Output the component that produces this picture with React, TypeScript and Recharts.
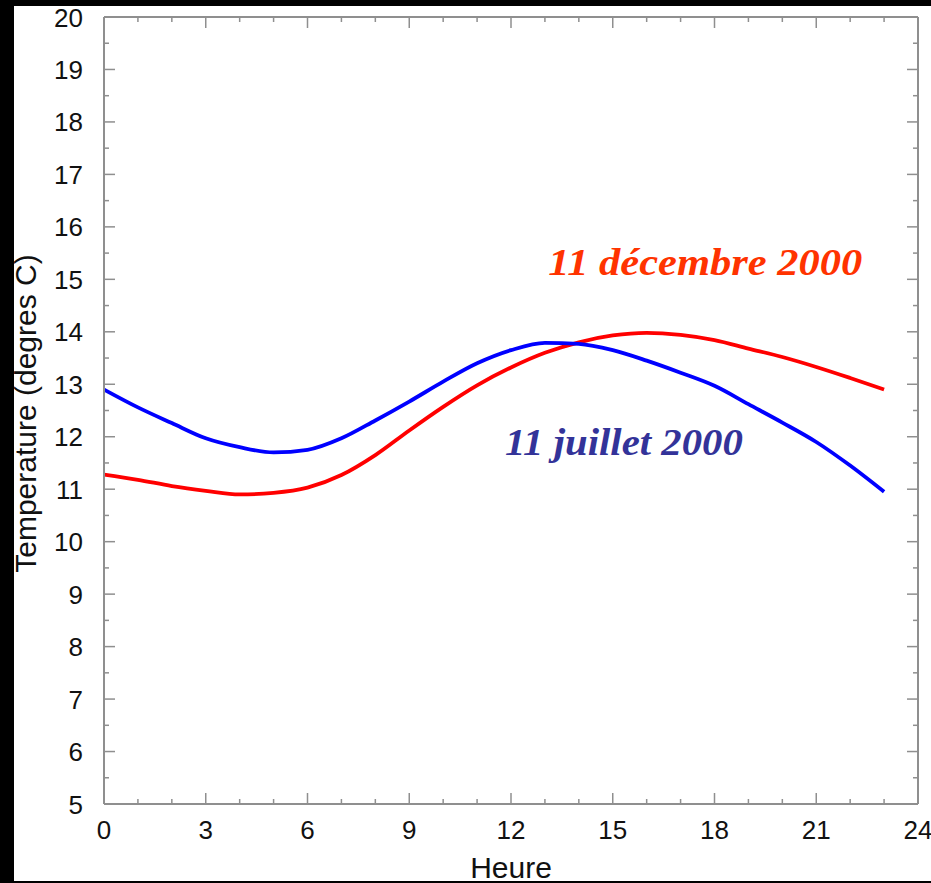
import React from "react";
import { LineChart, Line, XAxis, YAxis, ReferenceDot, Label } from "recharts";

// hourly temperatures
const hours = [0, 1, 2, 3, 4, 5, 6, 7, 8, 9, 10, 11, 12, 13, 14, 15, 16, 17, 18, 19, 20, 21, 22, 23];
const decembre = [11.28, 11.18, 11.06, 10.97, 10.9, 10.93, 11.03, 11.27, 11.65, 12.12, 12.57, 12.98, 13.32, 13.6, 13.8, 13.93, 13.98, 13.94, 13.84, 13.68, 13.52, 13.33, 13.12, 12.9];
const juillet = [12.9, 12.56, 12.26, 11.97, 11.8, 11.7, 11.75, 11.97, 12.31, 12.67, 13.05, 13.4, 13.65, 13.79, 13.77, 13.65, 13.45, 13.22, 12.97, 12.62, 12.27, 11.9, 11.45, 10.95];

const xTicks = [0, 1, 2, 3, 4, 5, 6, 7, 8, 9, 10, 11, 12, 13, 14, 15, 16, 17, 18, 19, 20, 21, 22, 23, 24];
const xLabels = [0, 3, 6, 9, 12, 15, 18, 21, 24];
const yTicks = [5, 5.5, 6, 6.5, 7, 7.5, 8, 8.5, 9, 9.5, 10, 10.5, 11, 11.5, 12, 12.5, 13, 13.5, 14, 14.5, 15, 15.5, 16, 16.5, 17, 17.5, 18, 18.5, 19, 19.5, 20];
const yLabels = [5, 6, 7, 8, 9, 10, 11, 12, 13, 14, 15, 16, 17, 18, 19, 20];

const data = hours.map((hour, i) => ({ hour, decembre: decembre[i], juillet: juillet[i] }));

const AXIS = "#8f8f8f";
const SANS = "'Liberation Sans', Arial, Helvetica, sans-serif";
const SERIF = "'Liberation Serif', 'Times New Roman', serif";

const BottomTick = ({ x, y, payload }: any) => {
  const major = xLabels.includes(payload.value);
  return (
    <g>
      <line x1={x} x2={x} y1={y} y2={y - (major ? 11 : 5)} stroke={AXIS} strokeWidth={1.5} />
      {major && (
        <text x={x} y={y + 35} textAnchor="middle" fontSize={26} fill="#111" fontFamily={SANS}>
          {payload.value}
        </text>
      )}
    </g>
  );
};

const TopTick = ({ x, y, payload }: any) => {
  const major = xLabels.includes(payload.value);
  return <line x1={x} x2={x} y1={y} y2={y + (major ? 11 : 5)} stroke={AXIS} strokeWidth={1.5} />;
};

const LeftTick = ({ x, y, payload }: any) => {
  const major = yLabels.includes(payload.value);
  return (
    <g>
      <line x1={x} x2={x + (major ? 11 : 5)} y1={y} y2={y} stroke={AXIS} strokeWidth={1.5} />
      {major && (
        <text x={x - 21} y={y} dy={9.5} textAnchor="end" fontSize={26} fill="#111" fontFamily={SANS}>
          {payload.value}
        </text>
      )}
    </g>
  );
};

const RightTick = ({ x, y, payload }: any) => {
  const major = yLabels.includes(payload.value);
  return <line x1={x} x2={x - (major ? 11 : 5)} y1={y} y2={y} stroke={AXIS} strokeWidth={1.5} />;
};

const note = (text: string, color: string, len: number) => (p: any) => (
  <text
    x={p.cx}
    y={p.cy}
    fill={color}
    fontSize={37}
    fontWeight="bold"
    fontStyle="italic"
    fontFamily={SERIF}
    textLength={len}
    lengthAdjust="spacingAndGlyphs"
  >
    {text}
  </text>
);

export default function App() {
  return (
    <div style={{ position: "absolute", top: 0, left: 0, width: 931, height: 883, background: "#fff", overflow: "hidden" }}>
      <LineChart width={931} height={883} data={data} margin={{ top: 16, right: 12, bottom: 0, left: 0 }}>
        <XAxis
          dataKey="hour"
          type="number"
          domain={[0, 24]}
          ticks={xTicks}
          interval={0}
          height={79}
          tickSize={0}
          tickMargin={0}
          tickLine={false}
          axisLine={{ stroke: AXIS, strokeWidth: 2 }}
          tick={BottomTick}
        >
          <Label
            content={(p: any) => (
              <text x={p.viewBox.x + p.viewBox.width / 2} y={p.viewBox.y + 74} textAnchor="middle" fontSize={30} fill="#111" fontFamily={SANS}>
                Heure
              </text>
            )}
          />
        </XAxis>
        <XAxis
          xAxisId="top"
          orientation="top"
          dataKey="hour"
          type="number"
          domain={[0, 24]}
          allowDataOverflow
          ticks={xTicks}
          interval={0}
          height={1}
          tickSize={0}
          tickMargin={0}
          tickLine={false}
          axisLine={{ stroke: AXIS, strokeWidth: 2 }}
          tick={TopTick}
        />
        <YAxis
          type="number"
          domain={[5, 20]}
          ticks={yTicks}
          interval={0}
          width={104}
          tickSize={0}
          tickMargin={0}
          tickLine={false}
          axisLine={{ stroke: AXIS, strokeWidth: 2 }}
          tick={LeftTick}
        >
          <Label
            content={(p: any) => {
              const cy = p.viewBox.y + p.viewBox.height / 2 + 3;
              return (
                <text x={36} y={cy} transform={`rotate(-90, 36, ${cy})`} textAnchor="middle" fontSize={30} fill="#111" fontFamily={SANS}>
                  Temperature (degres C)
                </text>
              );
            }}
          />
        </YAxis>
        <YAxis
          yAxisId="right"
          orientation="right"
          type="number"
          domain={[5, 20]}
          allowDataOverflow
          ticks={yTicks}
          interval={0}
          width={1}
          tickSize={0}
          tickMargin={0}
          tickLine={false}
          axisLine={{ stroke: AXIS, strokeWidth: 2 }}
          tick={RightTick}
        />
        <Line xAxisId="top" yAxisId="right" type="monotone" dataKey="decembre" stroke="#ff0000" strokeWidth={3.8} dot={false} isAnimationActive={false} />
        <Line type="monotone" dataKey="juillet" stroke="#0000ff" strokeWidth={3.8} dot={false} isAnimationActive={false} />
        <ReferenceDot x={13.1} y={15.08} r={0} shape={note("11 décembre 2000", "#ff3300", 314)} />
        <ReferenceDot x={11.82} y={11.65} r={0} shape={note("11 juillet 2000", "#333399", 238)} />
      </LineChart>
      <div style={{ position: "absolute", top: 0, left: 0, width: 931, height: 6, background: "#000", zIndex: 2 }} />
      <div style={{ position: "absolute", top: 0, left: 0, width: 14, height: 883, background: "#000", zIndex: 2 }} />
      <div style={{ position: "absolute", top: 881, left: 0, width: 931, height: 2, background: "#000", zIndex: 2 }} />
    </div>
  );
}
